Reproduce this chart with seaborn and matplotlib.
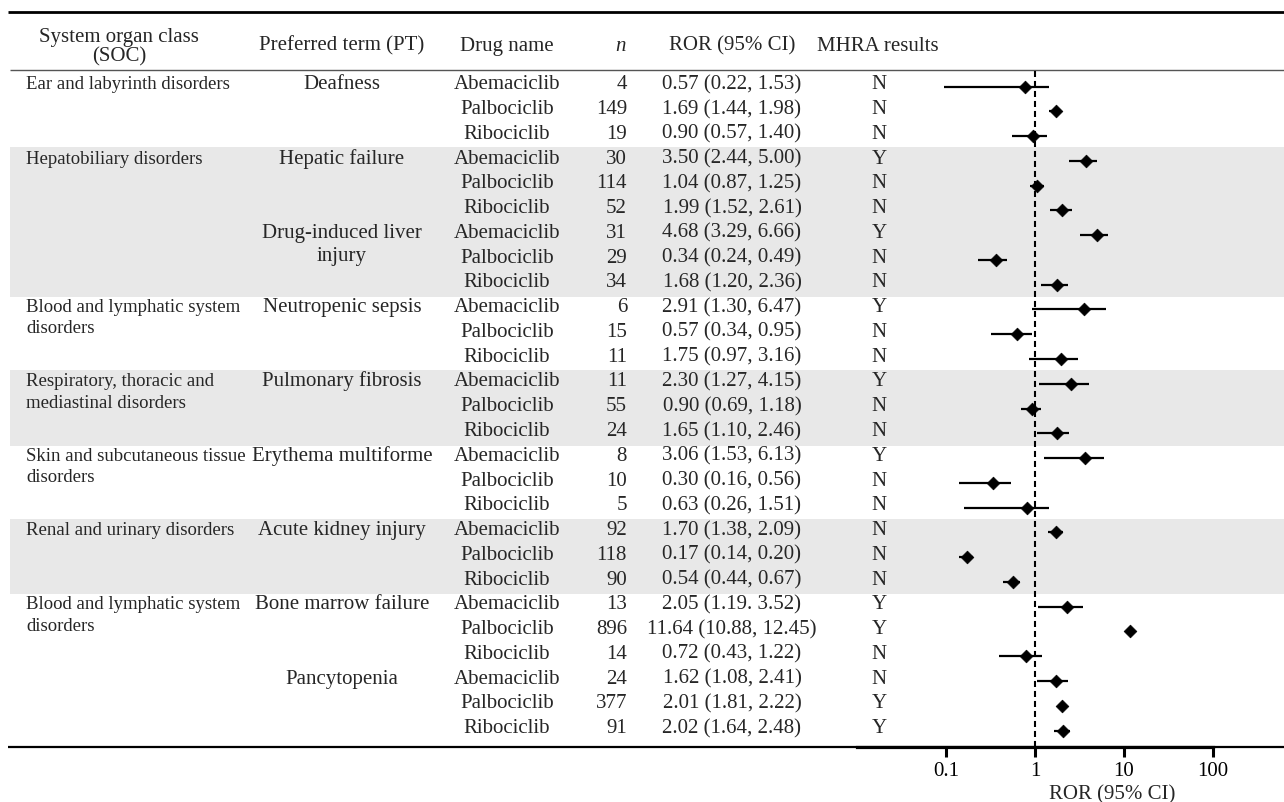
import numpy as np
import pandas as pd
import seaborn as sns
import matplotlib.pyplot as plt
from matplotlib.ticker import NullLocator

# ---------------------------------------------------------------
# table content
soc_names = ["Ear and labyrinth disorders",
             "Hepatobiliary disorders",
             "Blood and lymphatic system\ndisorders",
             "Respiratory, thoracic and\nmediastinal disorders",
             "Skin and subcutaneous tissue\ndisorders",
             "Renal and urinary disorders",
             "Blood and lymphatic system\ndisorders"]
soc_sizes = [3, 6, 3, 3, 3, 3, 6]

pt_names = ["Deafness", "Hepatic failure", "Drug-induced liver\ninjury",
            "Neutropenic sepsis", "Pulmonary fibrosis", "Erythema multiforme",
            "Acute kidney injury", "Bone marrow failure", "Pancytopenia"]

drug_names = ["Abemaciclib", "Palbociclib", "Ribociclib"] * 9

n_cases = [4, 149, 19, 30, 114, 52, 31, 29, 34, 6, 15, 11, 11, 55, 24,
           8, 10, 5, 92, 118, 90, 13, 896, 14, 24, 377, 91]

ror_labels = ["0.57 (0.22, 1.53)", "1.69 (1.44, 1.98)", "0.90 (0.57, 1.40)",
              "3.50 (2.44, 5.00)", "1.04 (0.87, 1.25)", "1.99 (1.52, 2.61)",
              "4.68 (3.29, 6.66)", "0.34 (0.24, 0.49)", "1.68 (1.20, 2.36)",
              "2.91 (1.30, 6.47)", "0.57 (0.34, 0.95)", "1.75 (0.97, 3.16)",
              "2.30 (1.27, 4.15)", "0.90 (0.69, 1.18)", "1.65 (1.10, 2.46)",
              "3.06 (1.53, 6.13)", "0.30 (0.16, 0.56)", "0.63 (0.26, 1.51)",
              "1.70 (1.38, 2.09)", "0.17 (0.14, 0.20)", "0.54 (0.44, 0.67)",
              "2.05 (1.19. 3.52)", "11.64 (10.88, 12.45)", "0.72 (0.43, 1.22)",
              "1.62 (1.08, 2.41)", "2.01 (1.81, 2.22)", "2.02 (1.64, 2.48)"]

mhra = list("NNNYNNYNNYNNYNNYNNNNNYYNNYY")

# estimates and CI as drawn in the forest panel
ror_est = [0.77, 1.71, 0.95, 3.71, 1.04, 2.03, 4.93, 0.36, 1.75,
           3.58, 0.62, 1.96, 2.54, 0.92, 1.75, 3.62, 0.34, 0.81,
           1.72, 0.17, 0.56, 2.27, 11.7, 0.79, 1.72, 2.01, 2.05]
ci_low = [0.095, 1.44, 0.55, 2.39, 0.87, 1.48, 3.2, 0.23, 1.18,
          0.93, 0.32, 0.86, 1.12, 0.69, 1.06, 1.25, 0.14, 0.16,
          1.39, 0.14, 0.44, 1.09, 10.88, 0.39, 1.04, 1.81, 1.65]
ci_high = [1.44, 1.98, 1.35, 4.94, 1.25, 2.58, 6.56, 0.48, 2.33,
           6.27, 0.92, 3.07, 4.07, 1.16, 2.39, 5.9, 0.54, 1.45,
           2.05, 0.20, 0.67, 3.43, 12.45, 1.19, 2.37, 2.22, 2.47]

headers = ["Preferred term (PT)", "Drug name", "n", "ROR (95% CI)", "MHRA results"]

# ---------------------------------------------------------------
sns.set_theme(style="white")
plt.rcParams["font.family"] = ["Liberation Serif", "DejaVu Serif"]

W, H = 1284, 803
Y0, DY = 87.5, 24.77


def row_of(y_px):
    return (y_px - Y0) / DY


fs = 15
fs_soc = 13.5
base = 0.07

df = pd.DataFrame({"row": np.arange(len(drug_names)), "est": ror_est,
                   "lo": ci_low, "hi": ci_high})

fig = plt.figure(figsize=(W / 100, H / 100), dpi=100)
bg = fig.add_axes([0, 0, 1, 1])
bg.set_xlim(0, W)
bg.set_ylim(row_of(H), row_of(0))
bg.axis("off")

# bands + SOC column
start = 0
for k, (name, size) in enumerate(zip(soc_names, soc_sizes)):
    if k % 2 == 1:
        bg.axhspan(start - 0.55, start + size - 0.5, xmin=10 / W, xmax=1,
                   color="#e8e8e8", lw=0, zorder=0)
    for j, line in enumerate(name.split("\n")):
        bg.text(26, start + base + 0.86 * j, line, fontsize=fs_soc,
                ha="left", va="baseline")
    start += size

# PT column
for k, name in enumerate(pt_names):
    for j, line in enumerate(name.split("\n")):
        bg.text(342, 3 * k + base + 0.92 * j, line, fontsize=fs,
                ha="center", va="baseline")

# other columns
for i in range(len(drug_names)):
    y = i + base
    bg.text(507, y, drug_names[i], fontsize=fs, ha="center", va="baseline")
    bg.text(627, y, str(n_cases[i]), fontsize=fs, ha="right", va="baseline")
    bg.text(732, y, ror_labels[i], fontsize=fs, ha="center", va="baseline")
    bg.text(879, y, mhra[i], fontsize=fs, ha="center", va="baseline")

# header
hy = row_of(46)
bg.text(119, row_of(37), "System organ class", fontsize=fs, ha="center", va="center")
bg.text(119, row_of(57), "(SOC)", fontsize=fs, ha="center", va="center")
for x, h in zip([342, 507, 621, 732, 878], headers):
    bg.text(x, hy, h, fontsize=fs, ha="center", va="center",
            fontstyle="italic" if h == "n" else "normal")

# rules
bg.hlines(row_of(13), 8, W, color="black", lw=2.0)
bg.hlines(row_of(71), 10, W, color="#555555", lw=1.0)
bg.hlines(row_of(748), 8, W, color="black", lw=1.6)

bg.text(1112, row_of(795), "ROR (95% CI)", fontsize=fs, ha="center", va="center")

# ---------------------------------------------------------------
# forest panel
ax = fig.add_axes([857 / W, (H - 748) / H, (1213 - 857) / W, (748 - 71) / H])
ax.patch.set_alpha(0)
ax.set_xscale("log")

ax.hlines(df["row"], df["lo"], df["hi"], color="black", lw=1.6, zorder=2)
sns.scatterplot(data=df, x="est", y="row", marker="D", color="black",
                edgecolor="black", linewidth=0.5, s=42, zorder=3,
                legend=False, ax=ax)
ax.axvline(1, color="black", lw=1.5, ls=(0, (2.9, 1.9)), zorder=1)

ax.set_xlim(0.01, 100)
ax.set_ylim(row_of(748), row_of(71))
ax.set_xticks([0.1, 1, 10, 100])
ax.set_xticklabels(["0.1", "1", "10", "100"])
ax.xaxis.set_minor_locator(NullLocator())
ax.set_yticks([])
ax.set_xlabel("")
ax.set_ylabel("")
for side in ["left", "right", "top"]:
    ax.spines[side].set_visible(False)
ax.spines["bottom"].set_linewidth(2.3)
ax.spines["bottom"].set_color("black")
ax.tick_params(axis="x", bottom=True, length=7, width=2.2, direction="out",
               labelsize=fs, pad=3, colors="black")

fig.savefig("out.png", dpi=100)
